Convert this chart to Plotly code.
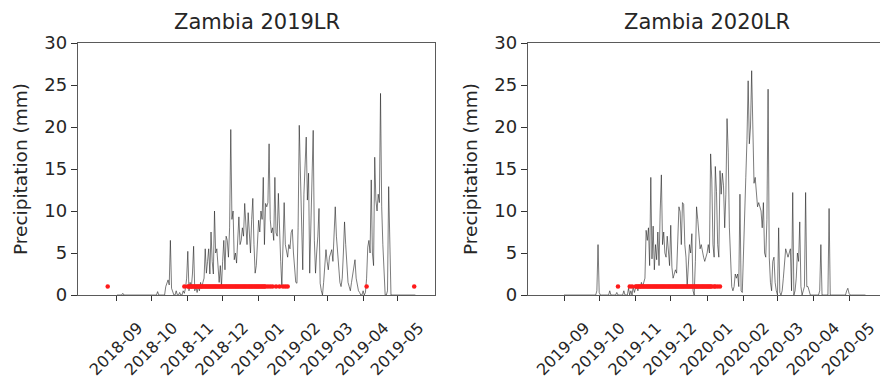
import pandas as pd
import plotly.graph_objects as go

# Daily precipitation (mm), one value per day from the season start date
season_start_2019 = "2018-09-01"
precip_2019 = [
    0, 0, 0, 0, 0, 0.2, 0, 0, 0, 0,
    0, 0, 0, 0, 0, 0, 0, 0, 0, 0,
    0, 0, 0, 0, 0, 0, 0, 0, 0, 0,
    0, 0, 0, 0, 0, 0.4, 0, 0, 0, 0,
    0, 0, 1.0, 1.4, 1.8, 1.2, 6.5, 0.8, 0.3, 0,
    0, 0.5, 0, 0, 0.3, 0, 0, 0.5, 0.2, 0.8,
    2.0, 5.2, 0.5, 1.5, 0.8, 2.5, 5.8, 0.5, 1.0, 0.3,
    1.0, 0.5, 1.5, 0.8, 1.5, 2.0, 5.5, 2.6, 4.0, 5.5,
    2.5, 7.5, 4.0, 2.5, 10.0, 5.0, 5.5, 3.0, 1.5, 3.5,
    1.0, 4.0, 6.5, 3.0, 7.0, 6.5, 4.5, 8.0, 19.7, 9.0,
    10.0, 4.2, 5.0, 3.8, 7.0, 9.3, 6.0, 6.5, 8.0, 7.0,
    10.9, 8.0, 6.0, 9.8, 7.5, 5.0, 9.0, 11.5, 6.0, 2.6,
    3.5, 6.0, 8.9, 7.5, 10.0, 9.0, 14.0, 6.0, 10.9, 10.5,
    11.0, 18.0, 9.0, 7.4, 8.0, 6.5, 14.0, 7.4, 7.0, 12.1,
    7.0, 4.0, 1.0, 6.0, 11.0, 6.0, 5.0, 4.5, 6.0, 5.5,
    7.4, 7.8, 5.0, 3.0, 1.5, 1.4, 8.0, 20.2, 15.0, 11.3,
    3.0, 12.0, 15.0, 18.8, 11.3, 14.5, 2.6, 9.0, 15.0, 19.6,
    6.5, 2.6, 5.0, 7.0, 10.3, 1.4, 0.5, 0, 1.5, 3.0,
    5.4, 4.0, 3.0, 4.5, 5.0, 5.4, 4.0, 7.0, 10.5, 7.0,
    5.0, 2.6, 1.5, 1.0, 2.0, 5.0, 8.7, 6.0, 3.4, 1.5,
    1.0, 0.5, 1.5, 2.5, 3.0, 4.2, 2.0, 1.0, 0.5, 0.3,
    0, 0, 0.5, 0, 0.3, 2.0, 5.7, 6.5, 5.0, 13.7,
    5.0, 3.5, 16.4, 11.3, 10.0, 12.0, 11.0, 24.0, 10.5, 6.0,
    2.0, 0, 0, 0.5, 12.9, 6.0, 0, 0, 0, 0,
    0, 0, 0, 0, 0, 0, 0, 0, 0, 0,
    0, 0, 0, 0, 0, 0, 0, 0,
]

season_start_2020 = "2019-09-01"
precip_2020 = [
    0, 0, 0, 0, 0, 0, 0, 0, 0, 0,
    0, 0, 0, 0, 0, 0, 0, 0, 0, 0,
    0, 0, 0, 0, 0, 0, 0, 0, 0.5, 6.0,
    0.3, 0, 0, 0, 0, 0, 0, 0, 0, 0.5,
    0, 0, 0, 0, 0, 0.3, 0, 0, 0, 0,
    0, 0.5, 0, 0, 0, 0.8, 0, 0.5, 0, 1.0,
    0.3, 0.8, 1.0, 0.5, 1.2, 0.8, 1.5, 1.0, 1.5, 2.0,
    7.7, 6.5, 8.0, 3.5, 14.0, 4.3, 8.2, 3.0, 6.0, 4.2,
    7.5, 3.5, 10.0, 14.3, 6.0, 7.5, 5.0, 4.5, 7.0, 5.5,
    3.5, 8.3, 3.3, 2.0, 2.6, 3.0, 2.6, 6.0, 10.5, 9.9,
    6.0, 11.0, 10.8, 6.0, 4.5, 1.0, 4.5, 6.0, 5.0, 7.3,
    0.5, 0, 4.0, 10.5, 9.0, 6.5, 5.5, 6.0, 5.0, 4.5,
    4.0, 4.5, 5.0, 6.0, 5.0, 16.8, 13.8, 6.0, 4.5, 15.3,
    12.3, 6.0, 4.5, 14.8, 12.0, 14.5, 13.0, 8.0, 12.0, 21.0,
    17.0, 8.0, 3.0, 1.0, 0.5, 1.0, 2.5, 2.0, 2.5, 1.0,
    12.0, 0.5, 0.3, 6.0, 10.0, 14.0, 18.5, 25.5, 18.0, 20.0,
    26.7, 19.0, 13.3, 14.0, 12.0, 10.5, 11.0, 10.5, 10.0, 8.0,
    11.0, 5.0, 4.5, 9.0, 24.5, 4.5, 1.5, 0.5, 4.0, 4.5,
    1.5, 0.5, 0, 8.0, 0.3, 0, 0.5, 2.0, 3.5, 5.5,
    5.0, 4.5, 5.0, 5.5, 0.5, 12.2, 0, 0.5, 2.0, 5.0,
    4.0, 8.7, 1.0, 0, 0.5, 1.0, 12.2, 1.0, 1.0, 0.5,
    0, 0, 0, 0, 0, 0, 0, 0, 0.5, 6.0,
    0, 0, 0, 0, 0, 0, 10.3, 0, 0, 0,
    0, 0, 0, 0, 0, 0, 0, 0, 0, 0,
    0, 0.5, 0.8, 0.2, 0, 0, 0, 0, 0, 0,
    0, 0, 0, 0, 0, 0, 0, 0,
]

# Days flagged by the onset detector, as (first day, last day) runs
onset_runs_2019 = [
    ("2018-08-24", "2018-08-24"),
    ("2018-10-29", "2018-10-29"),
    ("2018-11-01", "2019-01-07"),
    ("2019-01-09", "2019-01-09"),
    ("2019-01-11", "2019-01-11"),
    ("2019-01-13", "2019-01-13"),
    ("2019-01-16", "2019-01-16"),
    ("2019-01-19", "2019-01-19"),
    ("2019-01-22", "2019-01-22"),
    ("2019-01-24", "2019-01-24"),
    ("2019-01-26", "2019-01-26"),
    ("2019-04-04", "2019-04-04"),
    ("2019-05-15", "2019-05-15"),
]
onset_runs_2020 = [
    ("2019-10-17", "2019-10-17"),
    ("2019-10-27", "2019-10-27"),
    ("2019-10-29", "2019-10-29"),
    ("2019-11-01", "2020-01-05"),
    ("2020-01-07", "2020-01-08"),
    ("2020-01-10", "2020-01-10"),
    ("2020-01-12", "2020-01-12"),
]
onset_level = 1.0

month_ticks_2019 = ["2018-09-01", "2018-10-01", "2018-11-01", "2018-12-01", "2019-01-01",
                    "2019-02-01", "2019-03-01", "2019-04-01", "2019-05-01"]
month_ticks_2020 = ["2019-09-01", "2019-10-01", "2019-11-01", "2019-12-01", "2020-01-01",
                    "2020-02-01", "2020-03-01", "2020-04-01", "2020-05-01"]

titles = ["Zambia 2019LR", "Zambia 2020LR"]
y_ticks = [0, 5, 10, 15, 20, 25, 30]

W, H = 880, 389
FONT = "DejaVu Sans"
TXT = "#262626"
SPINE = "#5a5a5a"


def expand(runs):
    days = []
    for a, b in runs:
        days.extend(pd.date_range(a, b, freq="D"))
    return days


fig = go.Figure()

panels = [
    (season_start_2019, precip_2019, onset_runs_2019, "x", "y"),
    (season_start_2020, precip_2020, onset_runs_2020, "x2", "y2"),
]
for start, values, runs, xa, ya in panels:
    dates = pd.date_range(start, periods=len(values), freq="D")
    fig.add_trace(go.Scatter(
        x=dates, y=values, mode="lines",
        line=dict(color="rgba(30,30,30,0.65)", width=0.9),
        xaxis=xa, yaxis=ya, showlegend=False, hoverinfo="skip",
    ))
    onset_days = expand(runs)
    fig.add_trace(go.Scatter(
        x=onset_days, y=[onset_level] * len(onset_days), mode="markers",
        marker=dict(color="#ff1a1a", size=4.5, line=dict(width=0)),
        xaxis=xa, yaxis=ya, showlegend=False, hoverinfo="skip",
    ))

y_dom = [94 / H, 346 / H]
common_x = dict(
    type="date", showgrid=False, zeroline=False, automargin=False,
    showline=True, linecolor=SPINE, linewidth=1.3, mirror=True,
    ticks="outside", ticklen=5, tickcolor="#333", tickwidth=1,
    tickformat="%Y-%m", tickangle=-45,
    tickfont=dict(family=FONT, size=16, color=TXT),
    ticklabelshift=21, ticklabelstandoff=11, ticklabeloverflow="allow",
)
common_y = dict(
    range=[0, 30], tickvals=y_ticks, showgrid=False, zeroline=False, automargin=False,
    showline=True, linecolor=SPINE, linewidth=1.3,
    ticks="outside", ticklen=6, tickcolor="#333", tickwidth=1,
    tickfont=dict(family=FONT, size=18, color=TXT),
    title=dict(text="Precipitation (mm)", font=dict(family=FONT, size=18.5, color=TXT), standoff=11),
)

fig.update_layout(
    width=W, height=H,
    margin=dict(l=0, r=0, t=0, b=0),
    paper_bgcolor="white", plot_bgcolor="white",
    xaxis=dict(common_x, domain=[78 / W, 435 / W], anchor="y",
               range=["2018-07-29 10:00", "2019-06-01 22:00"], tickvals=month_ticks_2019),
    yaxis=dict(common_y, domain=y_dom, anchor="x", mirror=True),
    xaxis2=dict(common_x, domain=[528 / W, 1.0], anchor="y2",
                range=["2019-08-01 07:00", "2020-05-27 10:00"], tickvals=month_ticks_2020),
    yaxis2=dict(common_y, domain=y_dom, anchor="x2", mirror=False),
)

for title, cx in zip(titles, [256.5 / W, 706.5 / W]):
    fig.add_annotation(
        text=title, x=cx, y=1 - 22 / H, xref="paper", yref="paper",
        xanchor="center", yanchor="middle", showarrow=False,
        font=dict(family=FONT, size=21, color=TXT),
    )

fig.write_html("out.html")
